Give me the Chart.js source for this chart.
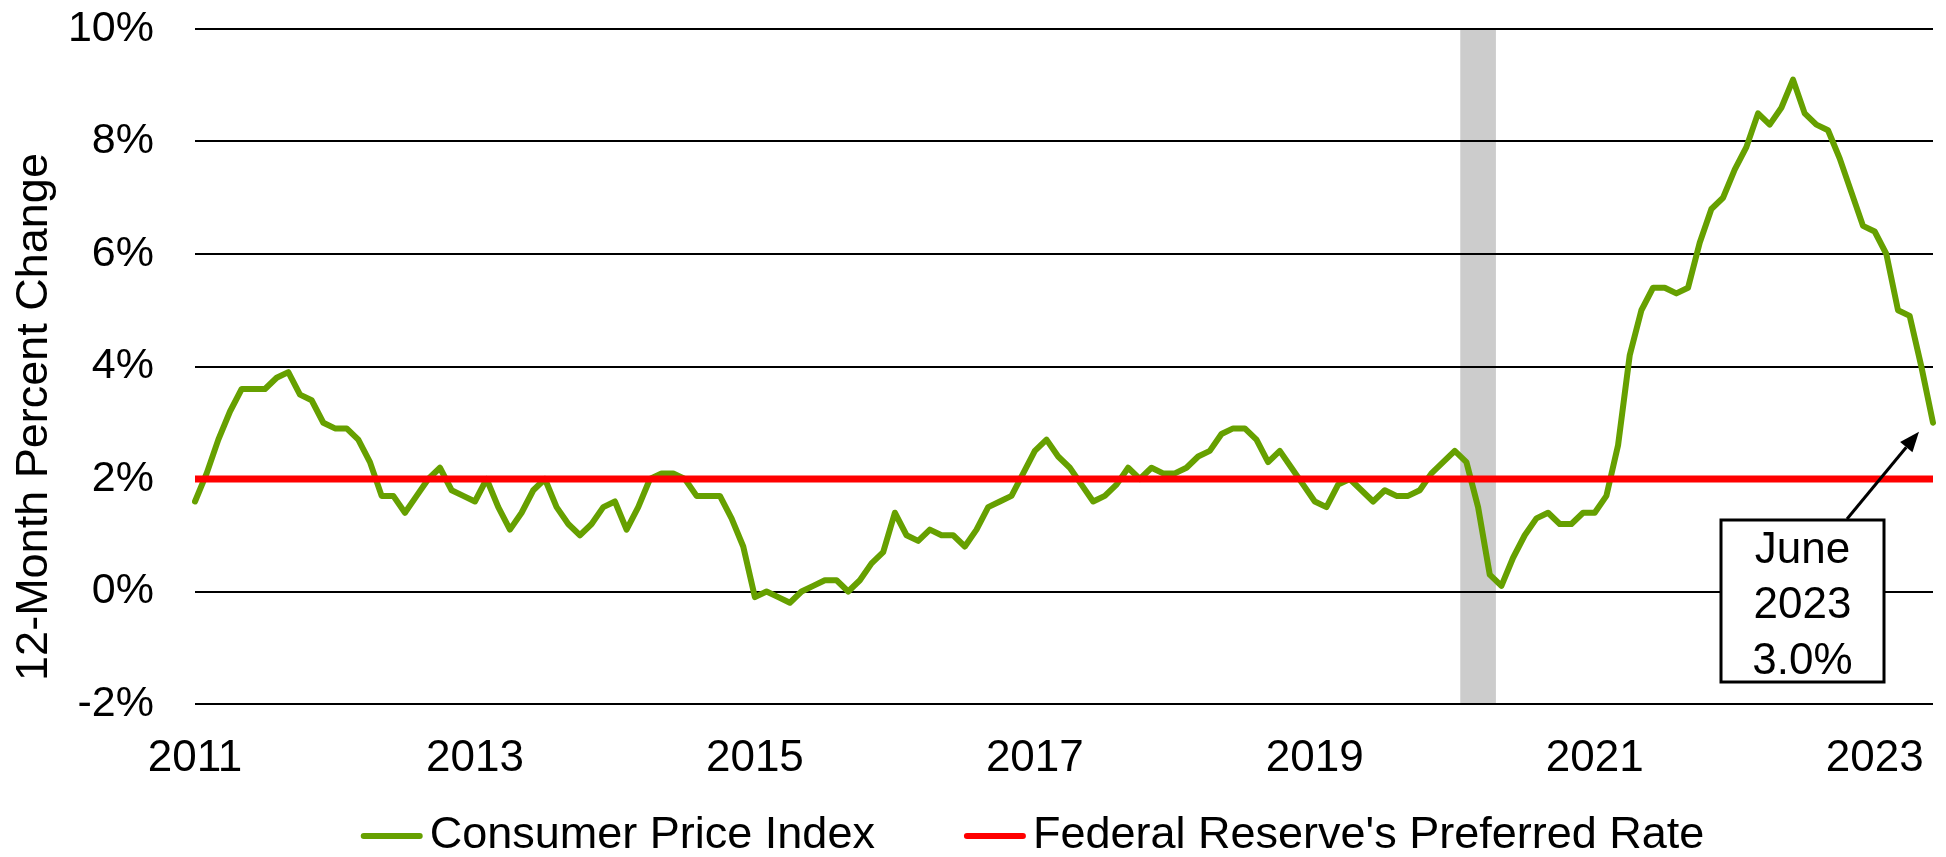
<!DOCTYPE html>
<html lang="en">
<head>
<meta charset="UTF-8">
<title>CPI vs Federal Reserve's Preferred Rate</title>
<script src="https://cdn.jsdelivr.net/npm/chart.js"></script>
<style>
  html, body { margin: 0; padding: 0; background: #fff; }
</style>
</head>
<body>
<canvas id="cpiChart" width="1946" height="857"></canvas>
<script>
// 12-month % change in CPI, monthly, Jan 2011 - Jun 2023
const years = [2011, 2012, 2013, 2014, 2015, 2016, 2017, 2018, 2019, 2020, 2021, 2022, 2023];
const monthNames = ['Jan','Feb','Mar','Apr','May','Jun','Jul','Aug','Sep','Oct','Nov','Dec'];
const cpi2011 = [1.6, 2.1, 2.7, 3.2, 3.6, 3.6, 3.6, 3.8, 3.9, 3.5, 3.4, 3.0];
const cpi2012 = [2.9, 2.9, 2.7, 2.3, 1.7, 1.7, 1.4, 1.7, 2.0, 2.2, 1.8, 1.7];
const cpi2013 = [1.6, 2.0, 1.5, 1.1, 1.4, 1.8, 2.0, 1.5, 1.2, 1.0, 1.2, 1.5];
const cpi2014 = [1.6, 1.1, 1.5, 2.0, 2.1, 2.1, 2.0, 1.7, 1.7, 1.7, 1.3, 0.8];
const cpi2015 = [-0.1, 0.0, -0.1, -0.2, 0.0, 0.1, 0.2, 0.2, 0.0, 0.2, 0.5, 0.7];
const cpi2016 = [1.4, 1.0, 0.9, 1.1, 1.0, 1.0, 0.8, 1.1, 1.5, 1.6, 1.7, 2.1];
const cpi2017 = [2.5, 2.7, 2.4, 2.2, 1.9, 1.6, 1.7, 1.9, 2.2, 2.0, 2.2, 2.1];
const cpi2018 = [2.1, 2.2, 2.4, 2.5, 2.8, 2.9, 2.9, 2.7, 2.3, 2.5, 2.2, 1.9];
const cpi2019 = [1.6, 1.5, 1.9, 2.0, 1.8, 1.6, 1.8, 1.7, 1.7, 1.8, 2.1, 2.3];
const cpi2020 = [2.5, 2.3, 1.5, 0.3, 0.1, 0.6, 1.0, 1.3, 1.4, 1.2, 1.2, 1.4];
const cpi2021 = [1.4, 1.7, 2.6, 4.2, 5.0, 5.4, 5.4, 5.3, 5.4, 6.2, 6.8, 7.0];
const cpi2022 = [7.5, 7.9, 8.5, 8.3, 8.6, 9.1, 8.5, 8.3, 8.2, 7.7, 7.1, 6.5];
const cpi2023 = [6.4, 6.0, 5.0, 4.9, 4.0, 3.0];
const cpiByYear = [cpi2011, cpi2012, cpi2013, cpi2014, cpi2015, cpi2016, cpi2017,
                   cpi2018, cpi2019, cpi2020, cpi2021, cpi2022, cpi2023];

const fedTarget = 2.0;
const recessionMonths = ['Feb 2020', 'Mar 2020', 'Apr 2020'];
const tickYears = ['2011', '2013', '2015', '2017', '2019', '2021', '2023'];
const yMin = -2, yMax = 10, yStep = 2;
const yTitle = '12-Month Percent Change';
const noteLines = ['June', '2023', '3.0%'];

// flatten into monthly series
const labels = [];
const cpi = [];
years.forEach((yr, i) => {
  cpiByYear[i].forEach((v, m) => {
    labels.push(monthNames[m] + ' ' + yr);
    cpi.push(v);
  });
});
const fedLine = labels.map(() => fedTarget);
const recessionBars = labels.map(l => recessionMonths.includes(l) ? [yMin, yMax] : null);

const FONT = '"Liberation Sans", Arial, sans-serif';

// y title, legend and the June 2023 call-out
const extras = {
  id: 'extras',
  // grid lines show through the grey recession band
  afterDatasetDraw(chart, args) {
    if (chart.data.datasets[args.index].type === 'bar') {
      chart.scales.y.drawGrid(chart.chartArea);
    }
  },
  afterDraw(chart) {
    const c = chart.ctx;
    c.save();
    c.fillStyle = '#000';

    // y axis title
    c.save();
    c.translate(47, 417);
    c.rotate(-Math.PI / 2);
    c.font = '45px ' + FONT;
    c.textAlign = 'center';
    c.textBaseline = 'alphabetic';
    c.fillText(yTitle, 0, 0);
    c.restore();

    // legend
    const ds = chart.data.datasets.filter(d => d.type !== 'bar');
    c.font = '45px ' + FONT;
    c.textBaseline = 'middle';
    c.textAlign = 'left';
    const sample = 60, gap = 8, itemGap = 90, ly = 836;
    let total = 0;
    ds.forEach((d, i) => {
      total += sample + gap + c.measureText(d.label).width + (i < ds.length - 1 ? itemGap : 0);
    });
    let lx = 1033 - total / 2;
    ds.forEach(d => {
      c.strokeStyle = d.borderColor;
      c.lineWidth = 6;
      c.lineCap = 'round';
      c.beginPath();
      c.moveTo(lx + 2, ly);
      c.lineTo(lx + sample - 2, ly);
      c.stroke();
      lx += sample + gap;
      c.fillText(d.label, lx, ly);
      lx += c.measureText(d.label).width + itemGap;
    });

    // call-out box
    const bx = 1721, by = 520, bw = 163, bh = 162;
    c.fillStyle = '#fff';
    c.fillRect(bx, by, bw, bh);
    c.strokeStyle = '#000';
    c.lineWidth = 3;
    c.strokeRect(bx, by, bw, bh);
    c.fillStyle = '#000';
    c.font = '44px ' + FONT;
    c.textAlign = 'center';
    c.textBaseline = 'alphabetic';
    const baselines = [563, 618, 674];
    noteLines.forEach((t, i) => c.fillText(t, bx + bw / 2, baselines[i]));

    // arrow pointing at the last CPI point
    const xs = chart.scales.x, ys = chart.scales.y;
    const last = cpi.length - 1;
    const tx = xs.getPixelForValue(last) - 14;
    const ty = ys.getPixelForValue(cpi[last]) + 9;
    const sx = 1847, sy = by - 1;
    const ang = Math.atan2(ty - sy, tx - sx);
    const head = 20, half = 8;
    const hx = tx - head * Math.cos(ang), hy = ty - head * Math.sin(ang);
    c.lineWidth = 3;
    c.lineCap = 'butt';
    c.beginPath();
    c.moveTo(sx, sy);
    c.lineTo(hx, hy);
    c.stroke();
    c.beginPath();
    c.moveTo(tx, ty);
    c.lineTo(hx + half * Math.sin(ang), hy - half * Math.cos(ang));
    c.lineTo(hx - half * Math.sin(ang), hy + half * Math.cos(ang));
    c.closePath();
    c.fill();

    c.restore();
  }
};

new Chart(document.getElementById('cpiChart'), {
  type: 'line',
  data: {
    labels: labels,
    datasets: [
      {
        label: 'Consumer Price Index',
        data: cpi,
        borderColor: '#66a000',
        borderWidth: 6,
        pointRadius: 0,
        tension: 0,
        borderJoinStyle: 'round',
        borderCapStyle: 'round',
        order: 2
      },
      {
        label: "Federal Reserve's Preferred Rate",
        data: fedLine,
        borderColor: '#ff0000',
        borderWidth: 7,
        pointRadius: 0,
        order: 1
      },
      {
        type: 'bar',
        label: 'Recession',
        data: recessionBars,
        backgroundColor: '#cccccc',
        borderWidth: 0,
        barPercentage: 1,
        categoryPercentage: 1,
        order: 3
      }
    ]
  },
  options: {
    responsive: false,
    animation: false,
    layout: { padding: { left: 0, right: 13, top: 29, bottom: 0 } },
    plugins: {
      legend: { display: false },
      tooltip: { enabled: false }
    },
    scales: {
      x: {
        type: 'category',
        offset: false,
        grid: { display: false, drawTicks: false, offset: false },
        border: { display: false },
        ticks: {
          autoSkip: false,
          maxRotation: 0,
          minRotation: 0,
          padding: 28,
          color: '#000',
          font: { family: FONT, size: 44 },
          callback: function (val) {
            const l = this.getLabelForValue(val);
            const [mon, yr] = l.split(' ');
            return (mon === 'Jan' && tickYears.includes(yr)) ? yr : '';
          }
        },
        afterFit: s => {
          s.height = 153;
          s.paddingLeft = 0; s.paddingRight = 0;
        }
      },
      y: {
        min: yMin,
        max: yMax,
        grid: { color: '#000', lineWidth: 2, drawTicks: false },
        border: { display: false },
        ticks: {
          stepSize: yStep,
          padding: 41,
          color: '#000',
          font: { family: FONT, size: 43 },
          callback: v => v + '%'
        },
        afterFit: s => {
          s.width = 195;
          s.paddingTop = 0; s.paddingBottom = 0;
        }
      }
    }
  },
  plugins: [extras]
});
</script>
</body>
</html>
